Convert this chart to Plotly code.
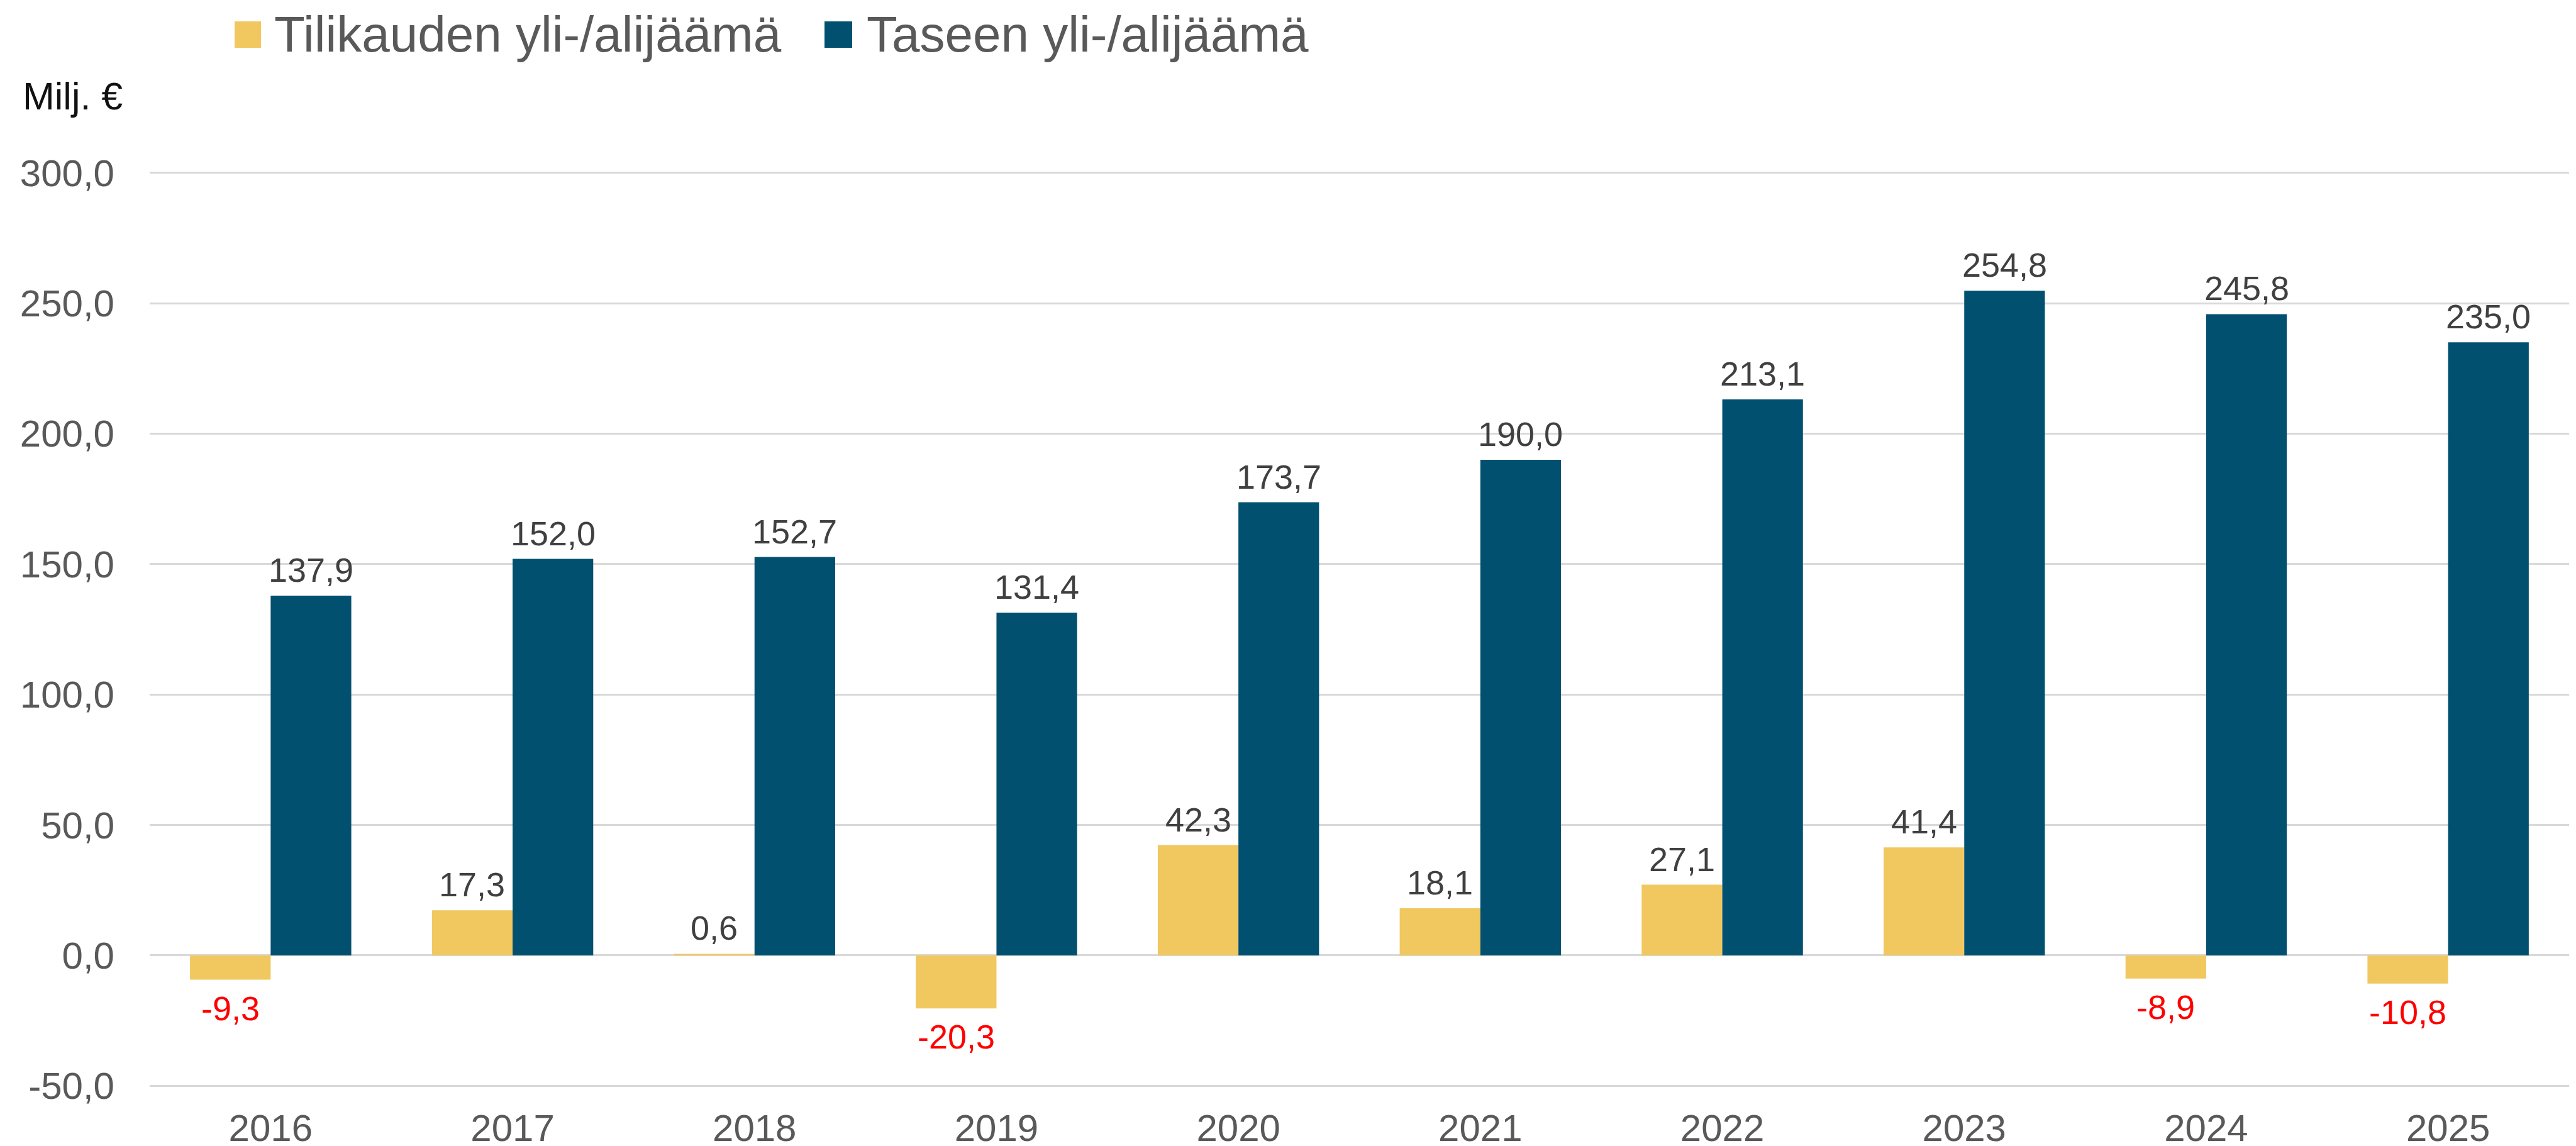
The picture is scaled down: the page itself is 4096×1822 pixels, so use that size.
import plotly.graph_objects as go

years = ["2016", "2017", "2018", "2019", "2020", "2021", "2022", "2023", "2024", "2025"]
tilikausi = [-9.3, 17.3, 0.6, -20.3, 42.3, 18.1, 27.1, 41.4, -8.9, -10.8]
tase = [137.9, 152.0, 152.7, 131.4, 173.7, 190.0, 213.1, 254.8, 245.8, 235.0]
series_names = ["Tilikauden yli-/alijäämä", "Taseen yli-/alijäämä"]
series_colors = ["#F1C75F", "#02506F"]
y_ticks = [-50, 0, 50, 100, 150, 200, 250, 300]

FONT = "Liberation Sans"
W, H = 4096, 1822
ML, MR, MT, MB = 230, 19, 265, 102
PW = W - ML - MR
PH = H - MT - MB


def fmt(v):
    return f"{v:.1f}".replace(".", ",")


def px_x(px):
    return (px - ML) / PW


def px_y(py):
    return (H - MB - py) / PH


fig = go.Figure()
for name, vals, col in zip(series_names, [tilikausi, tase], series_colors):
    fig.add_trace(go.Bar(x=years, y=vals, name=name, marker=dict(color=col, line=dict(width=0)),
                         showlegend=False, hoverinfo="skip"))

annotations = []
for si, vals in enumerate([tilikausi, tase]):
    off = -1 / 6 if si == 0 else 1 / 6
    for i, v in enumerate(vals):
        neg = v < 0
        annotations.append(dict(
            x=i + off, y=v, xref="x", yref="y", text=fmt(v), showarrow=False,
            xanchor="center", yanchor="top" if neg else "bottom",
            yshift=-13 if neg else 9,
            font=dict(family=FONT, size=54, color="#FF0000" if neg else "#404040"),
        ))

# manual legend
shapes = []
legend_sq = [(365, 407), (1303, 1347)]
legend_tx = [426, 1368]
for (x0, x1), tx, name, col in zip(legend_sq, legend_tx, series_names, series_colors):
    shapes.append(dict(type="rect", xref="paper", yref="paper", x0=px_x(x0), x1=px_x(x1),
                       y0=px_y(68), y1=px_y(26), fillcolor=col, line=dict(width=0)))
    annotations.append(dict(x=px_x(tx), y=px_y(46), xref="paper", yref="paper", text=name,
                            showarrow=False, xanchor="left", yanchor="middle",
                            font=dict(family=FONT, size=80, color="#595959")))

annotations.append(dict(x=px_x(26), y=px_y(145), xref="paper", yref="paper", text="Milj. €",
                        showarrow=False, xanchor="left", yanchor="middle",
                        font=dict(family=FONT, size=61, color="#111111")))

fig.update_layout(
    width=W, height=H,
    margin=dict(l=ML, r=MR, t=MT, b=MB, pad=0, autoexpand=False),
    paper_bgcolor="white", plot_bgcolor="white",
    barmode="group", bargap=1 / 3, bargroupgap=0,
    font=dict(family=FONT, color="#595959"),
    annotations=annotations, shapes=shapes,
    xaxis=dict(type="category", automargin=False, showgrid=False, zeroline=False, showline=False,
               ticks="", tickfont=dict(family=FONT, size=60, color="#595959"), ticklabelstandoff=25),
    yaxis=dict(range=[-50.4, 300.4], automargin=False, tickvals=y_ticks,
               ticktext=[fmt(v) for v in y_ticks],
               showgrid=True, gridcolor="#D9D9D9", gridwidth=2.5, zeroline=True,
               zerolinecolor="#D9D9D9", zerolinewidth=2.5, showline=False, ticks="",
               tickfont=dict(family=FONT, size=60, color="#595959"), ticklabelstandoff=55),
)

fig.write_html("out.html")
